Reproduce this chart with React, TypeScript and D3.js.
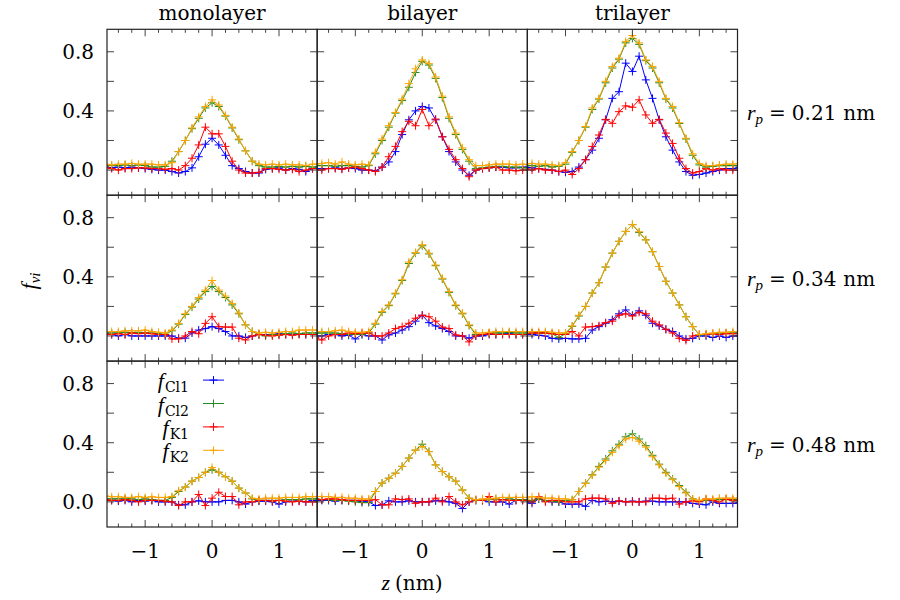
import React from 'react';
import * as d3 from 'd3';

// z grid (nm) of the density profiles
const zGrid = [-1.6, -1.5, -1.4, -1.3, -1.2, -1.1, -1.0, -0.9, -0.8, -0.7, -0.6, -0.5, -0.4, -0.3, -0.2, -0.1, 0,
  0.1, 0.2, 0.3, 0.4, 0.5, 0.6, 0.7, 0.8, 0.9, 1.0, 1.1, 1.2, 1.3, 1.4, 1.5, 1.6];

const layers = ['monolayer', 'bilayer', 'trilayer'];
const radii = ['0.21', '0.34', '0.48'];
const species = ['Cl1', 'Cl2', 'K1', 'K2'];

const yTickValues = [0, 0.2, 0.4, 0.6, 0.8];
const yLabelValues = [0, 0.4, 0.8];
const yLabelText = ['0.0', '0.4', '0.8'];
const xMinorTicks = [-1.4, -1.2, -0.8, -0.6, -0.4, -0.2, 0.2, 0.4, 0.6, 0.8, 1.2, 1.4];
const xMajorTicks = [-1, 0, 1];
const xLabelText = ['\u22121', '0', '1'];

// r_p = 0.21 nm
const cl1Mono21 = [.02, .015, .02, .015, .02, .015, .01, .005, 0, 0, -.01, -.02, -.01, .015, .09, .175, .215, .17, .1, .03, .01, -.01, -.02, -.02, .005, .01, .015, 0, .01, .005, -.01, .01, .015];
const cl2Mono21 = [.03, .03, .03, .035, .03, .035, .03, .02, .02, .025, .06, .125, .2, .28, .35, .42, .455, .43, .365, .285, .205, .13, .06, .03, .02, .02, .025, .02, .025, .02, .025, .02, .025];
const k1Mono21 = [.02, .01, 0, .01, .01, .015, .015, .01, .01, .005, .01, 0, .03, .08, .17, .29, .245, .245, .16, .06, 0, -.02, -.02, -.015, .01, .01, .005, 0, .005, -.01, 0, .01, .01];
const k2Mono21 = [.04, .035, .04, .04, .045, .04, .04, .04, .035, .035, .05, .125, .2, .285, .36, .43, .475, .44, .37, .29, .21, .13, .06, .04, .035, .04, .035, .04, .035, .035, .03, .04, .04];

const cl1Bi21 = [.01, .01, .01, .015, .01, .015, .01, 0, 0, -.005, .02, .055, .125, .24, .34, .4, .43, .42, .34, .225, .125, .055, 0, -.035, 0, .01, .015, .02, .02, .015, .015, .02, .02];
const cl2Bi21 = [.03, .03, .03, .025, .03, .03, .025, .02, .03, .11, .2, .29, .385, .47, .56, .66, .735, .71, .62, .49, .35, .24, .14, .06, .01, .015, .02, .025, .025, .02, .02, .015, .015];
const k1Bi21 = [0, 0, .01, .01, .005, .015, .02, .01, 0, -.01, .02, .09, .16, .26, .33, .3, .41, .3, .345, .225, .14, .07, .01, -.045, 0, .01, .015, .02, 0, 0, -.005, 0, 0];
const k2Bi21 = [.04, .045, .05, .04, .055, .04, .035, .04, .035, .12, .21, .3, .39, .48, .585, .685, .745, .72, .63, .5, .36, .25, .15, .07, .03, .03, .035, .04, .04, .04, .035, .04, .035];

const cl1Tri21 = [.02, .015, .01, .005, 0, -.01, -.015, -.01, .02, .07, .135, .215, .34, .485, .53, .723, .667, .77, .61, .485, .34, .225, .135, .055, -.01, -.035, -.03, -.02, -.01, 0, .01, .01, .02];
const cl2Tri21 = [.03, .03, .025, .03, .02, .025, .04, .12, .2, .29, .41, .48, .59, .69, .75, .86, .89, .85, .74, .69, .59, .48, .42, .315, .21, .1, .035, .02, .025, .03, .03, .03, .03];
const k1Tri21 = [.01, 0, .01, 0, 0, -.01, 0, -.03, .01, .07, .16, .237, .343, .316, .395, .434, .425, .475, .373, .316, .343, .25, .18, .08, .01, -.02, -.01, .01, 0, .01, 0, 0, 0];
const k2Tri21 = [.04, .045, .04, .04, .035, .03, .05, .125, .2, .295, .42, .485, .6, .7, .757, .87, .91, .86, .745, .7, .6, .485, .43, .32, .215, .11, .045, .03, .03, .035, .04, .04, .045];

// r_p = 0.34 nm
const cl1Mono34 = [.01, .01, 0, .01, 0, 0, 0, 0, 0, 0, 0, -.015, -.015, .02, .04, .05, .063, .05, .03, 0, 0, -.01, 0, .01, .01, .01, .015, .01, .01, .015, .01, .01, .01];
const cl2Mono34 = [.02, .02, .02, .025, .02, .025, .02, .02, .015, .01, .035, .08, .145, .195, .25, .3, .335, .3, .26, .21, .15, .075, .03, .01, 0, .01, .01, .015, .02, .015, .02, .02, .02];
const k1Mono34 = [.015, .01, .015, .01, .02, .015, .02, .015, .01, .01, -.02, -.02, 0, .03, .015, .085, .13, .063, .06, .06, -.015, -.027, 0, .01, .005, 0, .005, .01, .005, .01, .01, .01, .01];
const k2Mono34 = [.03, .03, .03, .035, .035, .035, .04, .03, .025, .02, .04, .085, .15, .2, .26, .31, .375, .31, .27, .22, .155, .075, .03, .02, .025, .02, .025, .03, .03, .04, .04, .04, .04];

const cl1Bi34 = [0, 0, .01, .01, 0, .005, -.02, .01, 0, 0, -.027, .007, .02, .04, .063, .1, .14, .09, .068, .05, .03, 0, 0, -.015, 0, 0, .01, .01, .015, .015, .01, .01, .01];
const cl2Bi34 = [.02, .02, .02, .02, .015, .01, .01, .01, .02, .08, .16, .205, .285, .375, .49, .56, .61, .555, .475, .385, .295, .205, .15, .07, .01, .01, .02, .02, .02, .025, .02, .02, .02];
const k1Bi34 = [-.01, -.027, 0, .01, .01, .02, .015, .02, .02, 0, 0, .02, .05, .063, .086, .12, .14, .13, .1, .06, .05, .007, 0, -.04, 0, .01, .015, .01, .01, .01, .01, .01, .01];
const k2Bi34 = [.03, .03, .03, .035, .04, .03, .025, .025, .03, .086, .165, .21, .29, .38, .5, .565, .617, .56, .48, .39, .3, .21, .155, .075, .02, .02, .025, .03, .03, .03, .03, .03, .03];

const cl1Tri34 = [.01, .01, .005, 0, -.016, -.02, -.016, -.02, -.02, -.016, .04, .063, .086, .11, .15, .176, .14, .17, .14, .086, .068, .045, .03, 0, -.02, -.016, 0, 0, -.01, 0, -.01, 0, 0];
const cl2Tri34 = [.02, .02, .02, .02, .015, -.01, .015, .065, .135, .2, .29, .36, .466, .56, .64, .707, .753, .7, .65, .57, .47, .37, .29, .21, .13, .063, .007, .01, .015, .02, .02, .02, .02];
const k1Tri34 = [.015, .02, .02, .02, .015, .01, .01, .03, 0, .06, .063, .07, .09, .1, .14, .15, .135, .16, .15, .1, .075, .045, .02, -.016, -.03, 0, .01, .01, .015, .01, .015, .015, .015];
const k2Tri34 = [.025, .03, .03, .03, .025, .02, .02, .068, .14, .2, .29, .36, .466, .56, .64, .707, .753, .705, .65, .57, .47, .37, .29, .21, .13, .063, .01, .015, .02, .025, .025, .03, .03];

// r_p = 0.48 nm
const cl1Mono48 = [.01, .01, .005, .01, 0, .01, .005, .01, 0, 0, 0, -.02, -.02, 0, .007, 0, 0, 0, .01, .01, 0, -.015, 0, .005, .005, 0, -.015, 0, .005, .005, 0, .01, .01];
const cl2Mono48 = [.02, .02, .02, .02, .02, .015, .02, .015, .01, .01, .03, .07, .1, .14, .165, .2, .217, .2, .17, .14, .093, .06, .02, .01, .01, .01, .01, .015, .015, .015, .02, .02, .02];
const k1Mono48 = [.015, .01, .01, .015, .01, 0, .01, .01, .01, .005, 0, -.025, 0, 0, .05, -.025, .025, .065, .036, .036, -.02, 0, 0, .01, .01, .005, .01, .005, 0, .005, 0, 0, 0];
const k2Mono48 = [.04, .035, .035, .03, .03, .035, .03, .035, .03, .03, .036, .075, .1, .14, .165, .2, .233, .2, .17, .14, .093, .06, .025, .02, .025, .025, .025, .03, .03, .03, .035, .035, .035];

const cl1Bi48 = [.01, .01, .01, .005, .01, .01, .01, 0, 0, -.025, -.02, .007, 0, 0, .007, 0, 0, 0, .007, .007, 0, -.01, -.045, 0, .01, .01, 0, 0, 0, -.015, .01, .01, .01];
const cl2Bi48 = [.02, .015, .015, .01, .01, .005, 0, -.005, -.005, .07, .127, .16, .194, .24, .296, .35, .39, .34, .25, .205, .17, .14, .08, .025, .01, .01, .015, .02, .015, .02, .015, .015, .015];
const k1Bi48 = [.02, .015, .02, .02, .015, .01, .01, .01, .01, .015, -.02, -.02, .02, .015, .02, -.01, 0, 0, .025, 0, .036, 0, -.02, 0, .015, .01, .036, 0, .015, .01, .01, .01, .01];
const k2Bi48 = [.036, .036, .035, .03, .03, .025, .025, .02, .02, .07, .127, .16, .194, .24, .296, .35, .375, .34, .25, .205, .17, .14, .08, .025, .014, .02, .02, .025, .03, .03, .03, .03, .03];

const cl1Tri48 = [0, -.01, .02, .005, 0, 0, -.015, -.015, -.015, -.03, .01, 0, .005, 0, .005, 0, .005, 0, .005, .005, 0, 0, 0, 0, 0, -.01, -.015, -.02, 0, -.01, -.01, -.01, -.005];
const cl2Tri48 = [.01, .01, .02, .01, .005, 0, .01, .014, .07, .127, .183, .24, .29, .345, .39, .44, .46, .425, .38, .315, .255, .2, .155, .11, .065, .02, .005, .01, .01, .015, .015, .015, .015];
const k1Tri48 = [.01, 0, .035, 0, .01, .01, 0, 0, 0, .02, .025, .025, .02, -.01, .007, 0, 0, 0, 0, .025, .025, .02, .025, -.015, 0, .007, 0, .02, .01, 0, .02, .01, .01];
const k2Tri48 = [.02, .035, .03, .025, .025, .02, .02, .014, .07, .125, .18, .235, .28, .335, .38, .425, .436, .41, .37, .305, .25, .194, .15, .104, .06, .02, .01, .02, .02, .025, .025, .025, .025];

const profiles = [
  [[cl1Mono21, cl2Mono21, k1Mono21, k2Mono21], [cl1Bi21, cl2Bi21, k1Bi21, k2Bi21], [cl1Tri21, cl2Tri21, k1Tri21, k2Tri21]],
  [[cl1Mono34, cl2Mono34, k1Mono34, k2Mono34], [cl1Bi34, cl2Bi34, k1Bi34, k2Bi34], [cl1Tri34, cl2Tri34, k1Tri34, k2Tri34]],
  [[cl1Mono48, cl2Mono48, k1Mono48, k2Mono48], [cl1Bi48, cl2Bi48, k1Bi48, k2Bi48], [cl1Tri48, cl2Tri48, k1Tri48, k2Tri48]],
];

const colors: Record<string, string> = { Cl1: '#0000ff', Cl2: '#228b22', K1: '#ff0000', K2: '#ffa500' };

// upright text in DejaVu Serif, math italics in Liberation Serif italic
const SERIF = { fontFamily: '"DejaVu Serif", serif' };
const ITALIC = { fontFamily: '"Liberation Serif", "DejaVu Serif", serif', fontStyle: 'italic' as const };
const FS = 20;

const plotLeft = 107;
const plotRight = 737.5;
const plotTop = 29.3;
const plotBottom = 527;
const pw = (plotRight - plotLeft) / 3;
const ph = (plotBottom - plotTop) / 3;

const x = d3.scaleLinear().domain([-1.57, 1.57]).range([0, pw]);
const y = d3.scaleLinear().domain([-0.17, 0.952]).range([ph, 0]);
const line = d3.line<number>().x((_, i) => x(zGrid[i])).y(d => y(d));

const crossPath = (px: number, py: number) => `M${px - 4},${py}h8M${px},${py - 4}v8`;

const Panel = ({ row, col }: { row: number; col: number }) => {
  const series = profiles[row][col];
  const clipId = `clip-${row}-${col}`;
  const tick = '#444';
  return (
    <g transform={`translate(${plotLeft + col * pw},${plotTop + row * ph})`}>
      <defs>
        <clipPath id={clipId}><rect width={pw} height={ph} /></clipPath>
      </defs>
      <g clipPath={`url(#${clipId})`}>
        {series.map((vals, s) => {
          const c = colors[species[s]];
          const marks = vals.map((v, i) => crossPath(x(zGrid[i]), y(v))).join('');
          return (
            <g key={s}>
              <path d={line(vals) || ''} fill="none" stroke={c} strokeWidth={1} />
              <path d={marks} fill="none" stroke={c} strokeWidth={1} />
            </g>
          );
        })}
      </g>
      {yTickValues.map(t => (
        <g key={'y' + t} stroke={tick} strokeWidth={1}>
          <line x1={0} x2={7} y1={y(t)} y2={y(t)} />
          <line x1={pw - 7} x2={pw} y1={y(t)} y2={y(t)} />
        </g>
      ))}
      {xMinorTicks.map(t => (
        <g key={'xm' + t} stroke={tick} strokeWidth={1}>
          <line x1={x(t)} x2={x(t)} y1={0} y2={3.5} />
          <line x1={x(t)} x2={x(t)} y1={ph - 3.5} y2={ph} />
        </g>
      ))}
      {xMajorTicks.map(t => (
        <g key={'xM' + t} stroke={tick} strokeWidth={1}>
          <line x1={x(t)} x2={x(t)} y1={0} y2={7} />
          <line x1={x(t)} x2={x(t)} y1={ph - 7} y2={ph} />
        </g>
      ))}
      <rect width={pw} height={ph} fill="none" stroke="#222" strokeWidth={1.2} />
      {col === 0 && yLabelValues.map((t, i) => (
        <text key={'yl' + t} x={-13} y={y(t) + 7} textAnchor="end" fontSize={FS} style={SERIF}>{yLabelText[i]}</text>
      ))}
      {row === 2 && xMajorTicks.map((t, i) => (
        <text key={'xl' + t} x={x(t)} y={ph + 31} textAnchor="middle" fontSize={FS} style={SERIF}>{xLabelText[i]}</text>
      ))}
    </g>
  );
};

const Legend = () => {
  const lx = plotLeft;
  const ly = plotTop + 2 * ph;
  return (
    <g>
      {species.map((sp, i) => {
        const cy = ly + 19 + i * 23.4;
        const c = colors[sp];
        return (
          <g key={sp}>
            <text x={lx + 82} y={cy + 8} textAnchor="end" fontSize={22} style={ITALIC}>
              f
              <tspan fontSize={14} dy={4} dx={1} style={{ ...SERIF, fontStyle: 'normal' }}>{sp}</tspan>
            </text>
            <line x1={lx + 96} x2={lx + 117} y1={cy} y2={cy} stroke={c} strokeWidth={1} />
            <path d={crossPath(lx + 106.5, cy)} stroke={c} strokeWidth={1} />
          </g>
        );
      })}
    </g>
  );
};

export default function App() {
  const rows = [0, 1, 2];
  const cols = [0, 1, 2];
  return (
    <svg width={900} height={600} style={{ position: 'absolute', left: 0, top: 0, background: '#fff' }}>
      <rect width={900} height={600} fill="#fff" />
      {rows.map(r => cols.map(c => <Panel key={`${r}-${c}`} row={r} col={c} />))}
      {layers.map((name, c) => (
        <text key={name} x={plotLeft + (c + 0.5) * pw} y={20} textAnchor="middle" fontSize={FS} style={SERIF}>{name}</text>
      ))}
      {radii.map((r, i) => (
        <text key={r} x={747} y={plotTop + i * ph + 91} fontSize={FS} style={SERIF}>
          <tspan fontSize={22} style={ITALIC}>r</tspan>
          <tspan fontSize={15} dy={4} style={ITALIC}>p</tspan>
          <tspan dy={-4} dx={6}>=</tspan>
          <tspan dx={6}>{r}</tspan>
          <tspan dx={7}>nm</tspan>
        </text>
      ))}
      <Legend />
      <text x={412} y={590} textAnchor="middle" fontSize={FS} style={SERIF}>
        <tspan fontSize={22} style={ITALIC}>z</tspan>
        <tspan dx={5}>(nm)</tspan>
      </text>
      <text transform="translate(36,281) rotate(-90)" textAnchor="middle" fontSize={22} style={ITALIC}>
        f
        <tspan fontSize={15} dy={4}>{'\u03bdi'}</tspan>
      </text>
    </svg>
  );
}
